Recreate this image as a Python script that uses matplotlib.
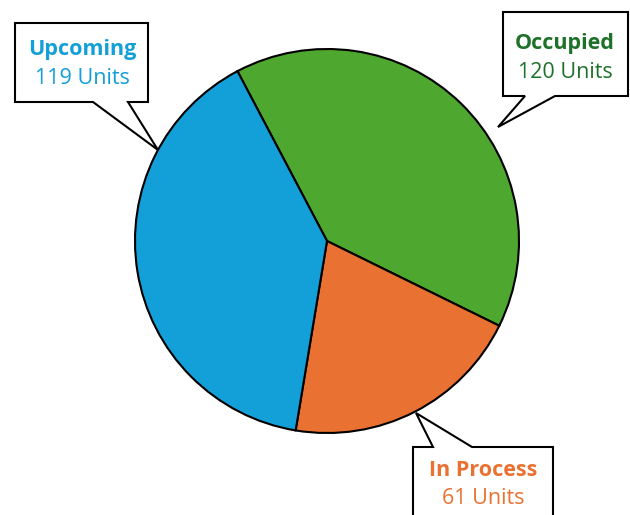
import matplotlib.pyplot as plt
from matplotlib.patches import Polygon

# data
labels = ["Occupied", "In Process", "Upcoming"]
units = [120, 61, 119]

colors = ["#4EA72E", "#E97132", "#139FD7"]
text_colors = ["#1E7129", "#E97132", "#139FD7"]

W, H = 630, 515
fig = plt.figure(figsize=(W / 100, H / 100), dpi=100)
ax = fig.add_axes([0, 0, 1, 1])

ax.pie(units, colors=colors, startangle=117.8, counterclock=False,
       center=(327, H - 241), radius=192, frame=True,
       wedgeprops=dict(edgecolor="black", linewidth=1.5))
ax.set_xlim(0, W)
ax.set_ylim(0, H)
ax.set_aspect("equal")
ax.axis("off")

# callout boxes (pixel coords, y from top): box rect, notch on edge, tip, text centre
callouts = {
    "Upcoming": dict(poly=[(15, 23), (148, 23), (148, 102), (128, 102), (158, 150), (93, 102), (15, 102)],
                     text=(82, 50)),
    "Occupied": dict(poly=[(503, 12), (628, 12), (628, 96), (555, 96), (498, 127), (525, 96), (503, 96)],
                     text=(565, 43)),
    "In Process": dict(poly=[(413, 447), (433, 447), (416, 413), (472, 447), (553, 447), (553, 530), (413, 530)],
                       text=(483, 470)),
}

for lab, n, tc in zip(labels, units, text_colors):
    c = callouts[lab]
    pts = [(x, H - y) for x, y in c["poly"]]
    ax.add_patch(Polygon(pts, closed=True, facecolor="white", edgecolor="black",
                         linewidth=1.5, zorder=5, clip_on=False))
    tx, ty = c["text"]
    ax.text(tx, H - ty, lab, color=tc, fontsize=15.5, fontweight="bold",
            family="Open Sans", ha="center", va="center", zorder=6)
    ax.text(tx, H - ty - 29, f"{n} Units", color=tc, fontsize=15.5,
            family="Open Sans", ha="center", va="center", zorder=6)

fig.savefig("out.png", dpi=100)
